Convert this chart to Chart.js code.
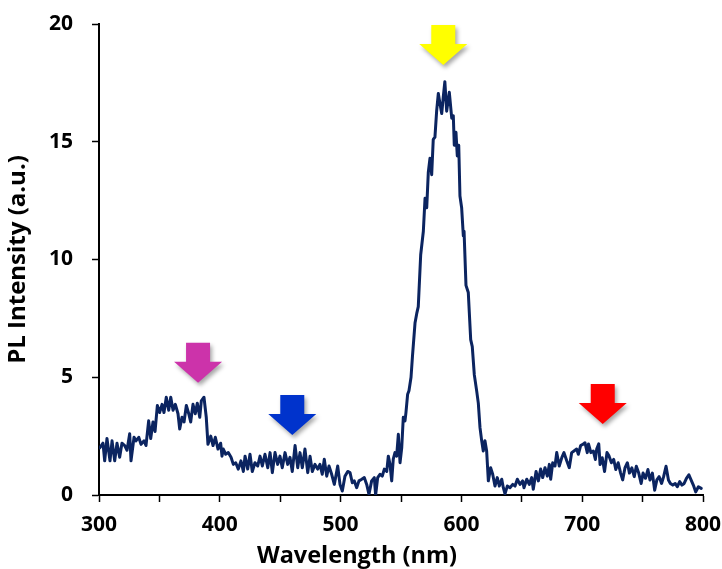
<!DOCTYPE html>
<html>
<head>
<meta charset="utf-8">
<script src="https://cdn.jsdelivr.net/npm/chart.js@4"></script>
<style>
  html, body { margin: 0; padding: 0; background: #fff; }
  #plChart { display: block; }
</style>
</head>
<body>
<canvas id="plChart" width="722" height="569"></canvas>
<script>
// === PL spectrum ===
const wavelength = [
  300.6, 303.3, 304.7, 306.6, 309.1, 310.8, 313.0, 314.9, 317.1, 319.0,
  321.3, 323.2, 325.4, 326.5, 329.0, 330.6, 332.9, 334.8, 337.3, 338.9,
  341.1, 342.8, 344.7, 346.4, 348.3, 350.2, 352.2, 353.8, 355.7, 357.7,
  359.4, 361.3, 363.2, 365.4, 366.8, 368.7, 370.4, 372.3, 374.3, 375.9,
  377.8, 379.7, 381.4, 383.4, 384.7, 386.9, 388.8, 390.2, 392.5, 394.4,
  396.3, 398.5, 400.7, 401.8, 402.9, 404.9, 407.0, 409.3, 411.2, 413.2,
  415.3, 417.5, 419.5, 420.9, 423.1, 425.0, 426.9, 429.1, 431.4, 433.3,
  435.2, 437.4, 439.7, 441.6, 443.5, 445.7, 447.9, 449.8, 451.7, 454.0,
  456.2, 458.1, 460.0, 462.3, 464.5, 466.4, 468.3, 470.5, 472.8, 474.7,
  476.6, 478.8, 481.0, 482.9, 484.8, 486.5, 488.5, 490.4, 492.6, 494.8,
  497.6, 499.5, 501.4, 503.6, 505.9, 507.8, 509.7, 511.3, 513.3, 515.2,
  517.5, 519.6, 521.6, 523.5, 525.7, 527.9, 529.0, 530.7, 532.6, 534.5,
  536.2, 538.2, 539.5, 540.9, 542.3, 543.6, 545.0, 546.4, 547.8, 549.2,
  550.6, 551.9, 553.3, 554.1, 555.5, 556.6, 558.3, 559.5, 561.6, 563.0,
  564.3, 566.3, 568.5, 569.9, 571.3, 572.6, 574.0, 575.4, 576.7, 578.1,
  579.5, 580.9, 582.3, 583.7, 585.0, 586.3, 587.8, 590.0, 592.0, 593.3,
  594.1, 595.5, 596.6, 597.8, 598.8, 600.2, 601.6, 602.2, 603.8, 605.7,
  607.7, 609.0, 610.7, 612.7, 614.0, 615.4, 616.8, 618.1, 619.5, 620.9,
  622.3, 624.2, 625.9, 627.8, 629.7, 631.4, 633.4, 634.7, 636.1, 638.0,
  640.2, 642.5, 644.4, 646.3, 648.5, 650.7, 651.8, 654.1, 656.2, 658.2,
  659.5, 661.8, 663.7, 665.6, 667.3, 669.2, 671.1, 672.8, 673.9, 675.6,
  677.5, 678.9, 681.0, 683.2, 684.9, 687.2, 689.3, 691.3, 693.2, 695.4,
  696.8, 698.7, 700.9, 702.3, 704.2, 705.2, 707.2, 709.2, 710.9, 712.0,
  713.7, 714.8, 716.6, 718.5, 720.5, 722.2, 724.2, 726.1, 727.8, 729.8,
  731.8, 733.5, 735.4, 737.4, 739.1, 741.1, 743.1, 744.8, 746.8, 748.8,
  750.4, 752.4, 754.4, 756.1, 758.1, 760.0, 761.8, 763.7, 765.7, 767.4,
  769.4, 771.4, 773.0, 775.0, 777.0, 778.7, 780.7, 782.6, 784.4, 786.3,
  788.3, 790.1, 792.0, 794.0, 796.2, 798.5
];
const intensity = [
  2.0, 2.2, 1.45, 2.4, 1.45, 2.3, 1.45, 2.2, 1.6, 2.2,
  2.1, 1.9, 2.6, 1.45, 2.45, 2.3, 2.45, 2.15, 2.3, 2.1,
  3.15, 2.4, 3.1, 2.7, 3.8, 3.5, 3.85, 3.5, 4.15, 3.6,
  4.15, 3.6, 3.85, 3.45, 2.8, 3.3, 3.1, 3.8, 3.45, 3.1,
  3.85, 3.45, 3.9, 3.3, 4.0, 4.15, 3.3, 2.15, 2.5, 2.1,
  2.45, 1.95, 2.2, 1.65, 1.95, 1.73, 1.8, 1.6, 1.3, 1.37,
  1.1, 1.45, 1.0, 1.65, 1.1, 1.73, 1.0, 1.37, 1.23, 1.65,
  1.23, 1.73, 1.16, 1.8, 0.95, 1.8, 1.3, 1.65, 1.16, 1.8,
  1.3, 1.6, 1.0, 2.1, 1.16, 1.8, 1.16, 1.95, 0.95, 1.65,
  1.0, 1.3, 1.1, 1.3, 0.88, 1.52, 0.8, 1.23, 0.88, 0.45,
  1.23, 0.45, 0.17, 0.8, 1.0, 0.95, 0.52, 0.6, 0.31, 0.6,
  0.67, 0.74, 0.45, 0.03, 0.6, 0.74, 0.0, 0.74, 0.88, 0.8,
  1.1, 1.0, 1.65, 1.3, 0.6, 1.52, 1.8, 1.65, 2.58, 1.37,
  2.0, 3.3, 3.15, 3.5, 4.28, 4.43, 5.0, 5.9, 7.3, 7.7,
  8.0, 10.2, 11.2, 12.6, 12.2, 13.7, 14.3, 13.6, 15.1, 15.2,
  16.3, 17.05, 16.6, 16.2, 16.9, 17.55, 16.3, 17.1, 16.0, 16.1,
  14.85, 15.4, 14.4, 14.85, 12.7, 12.2, 11.0, 11.2, 8.9, 8.6,
  6.6, 6.3, 5.1, 4.4, 3.9, 2.86, 2.3, 1.87, 2.3, 1.87,
  0.6, 1.16, 0.88, 0.38, 0.74, 0.38, 0.67, 0.31, 0.05, 0.38,
  0.31, 0.45, 0.38, 0.67, 0.45, 0.6, 0.31, 0.67, 0.45, 0.74,
  0.24, 1.0, 0.6, 1.1, 0.74, 1.16, 0.8, 1.3, 0.67, 1.37,
  1.23, 1.8, 1.23, 1.6, 1.8, 1.45, 1.16, 1.8, 1.87, 1.95,
  1.73, 2.1, 2.16, 2.22, 1.8, 2.17, 1.8, 1.87, 1.51, 1.95,
  2.17, 1.29, 1.58, 1.0, 1.8, 1.66, 1.37, 1.51, 1.08, 1.37,
  0.93, 0.64, 1.15, 1.37, 0.93, 1.15, 0.78, 1.22, 0.93, 0.49,
  0.93, 0.71, 1.08, 0.64, 0.93, 0.2, 0.64, 0.78, 0.49, 0.78,
  1.22, 0.64, 0.49, 0.42, 0.49, 0.35, 0.57, 0.42, 0.49, 0.71,
  0.86, 0.64, 0.42, 0.13, 0.35, 0.28
];

// === Axis ticks ===
const xTicks = [300, 400, 500, 600, 700, 800];
const yTicks = [0, 5, 10, 15, 20];

// === Emission arrows (tip position in data units) ===
const arrowNm = [382, 460, 585, 717];
const arrowLevel = [4.77, 2.55, 18.26, 3.02];
const arrowColors = ["#CC33AA", "#0033CC", "#FFFF00", "#FF0000"];

const FONT = "'Open Sans', 'Liberation Sans', sans-serif";
const lineColor = "#0B2460";

// === Down arrows drawn on top of the plot ===
const arrowPlugin = {
  id: "arrows",
  afterDatasetsDraw(chart) {
    const { ctx, scales } = chart;
    const shaftW = 24, headW = 48, headH = 21, totalH = 40;
    ctx.save();
    arrowNm.forEach((nm, i) => {
      const tx = scales.x.getPixelForValue(nm);
      const ty = scales.y.getPixelForValue(arrowLevel[i]);
      const top = ty - totalH;
      const neck = ty - headH;
      ctx.beginPath();
      ctx.moveTo(tx - shaftW / 2, top);
      ctx.lineTo(tx + shaftW / 2, top);
      ctx.lineTo(tx + shaftW / 2, neck);
      ctx.lineTo(tx + headW / 2, neck);
      ctx.lineTo(tx, ty);
      ctx.lineTo(tx - headW / 2, neck);
      ctx.lineTo(tx - shaftW / 2, neck);
      ctx.closePath();
      ctx.shadowColor = "rgba(0,0,0,0.35)";
      ctx.shadowBlur = 4;
      ctx.shadowOffsetX = 2;
      ctx.shadowOffsetY = 3;
      ctx.fillStyle = arrowColors[i];
      ctx.fill();
    });
    ctx.restore();
  },
};

// === X axis title (sits left of the plot centre in the original) ===
const xTitlePlugin = {
  id: "xTitle",
  afterDraw(chart) {
    const ctx = chart.ctx;
    ctx.save();
    ctx.font = "bold 23.5px " + FONT;
    ctx.fillStyle = "#000";
    ctx.textAlign = "center";
    ctx.textBaseline = "middle";
    ctx.fillText("Wavelength (nm)", 357, 556);
    ctx.restore();
  },
};

const points = wavelength.map((w, i) => ({ x: w, y: intensity[i] }));

new Chart(document.getElementById("plChart"), {
  type: "line",
  data: {
    datasets: [
      {
        label: "PL",
        data: points,
        borderColor: lineColor,
        borderWidth: 3,
        borderJoinStyle: "round",
        borderCapStyle: "round",
        pointRadius: 0,
        tension: 0,
        fill: false,
      },
    ],
  },
  options: {
    responsive: false,
    animation: false,
    events: [],
    layout: { padding: { top: 24, right: 19, left: 0, bottom: 0 } },
    plugins: { legend: { display: false }, tooltip: { enabled: false } },
    scales: {
      x: {
        type: "linear",
        min: 300,
        max: 800,
        afterFit: (s) => {
          s.height = 74;
          s.paddingLeft = 0;
          s.paddingRight = 0;
        },
        afterBuildTicks: (s) => {
          const t = [];
          for (let v = 300; v <= 800; v += 50) t.push({ value: v });
          s.ticks = t;
        },
        ticks: {
          autoSkip: false,
          maxRotation: 0,
          padding: 10,
          color: "#000",
          font: { family: FONT, size: 21, weight: "bold" },
          callback: (v) => (xTicks.includes(v) ? String(v) : ""),
        },
        grid: {
          drawOnChartArea: false,
          tickLength: 7,
          tickColor: "#000",
          tickWidth: 1.5,
        },
        border: { color: "#000", width: 2 },
      },
      y: {
        min: 0,
        max: 20,
        afterFit: (s) => {
          s.width = 99;
          s.paddingTop = 0;
          s.paddingBottom = 0;
        },
        afterBuildTicks: (s) => {
          s.ticks = yTicks.map((v) => ({ value: v }));
        },
        ticks: {
          padding: 19,
          color: "#000",
          font: { family: FONT, size: 21, weight: "bold" },
        },
        grid: {
          drawOnChartArea: false,
          tickLength: 7,
          tickColor: "#000",
          tickWidth: 1.5,
        },
        border: { color: "#000", width: 2 },
        title: {
          display: true,
          text: "PL Intensity (a.u.)",
          color: "#000",
          font: { family: FONT, size: 24, weight: "bold" },
          padding: { top: 4, bottom: 0 },
        },
      },
    },
  },
  plugins: [arrowPlugin, xTitlePlugin],
});
</script>
</body>
</html>
